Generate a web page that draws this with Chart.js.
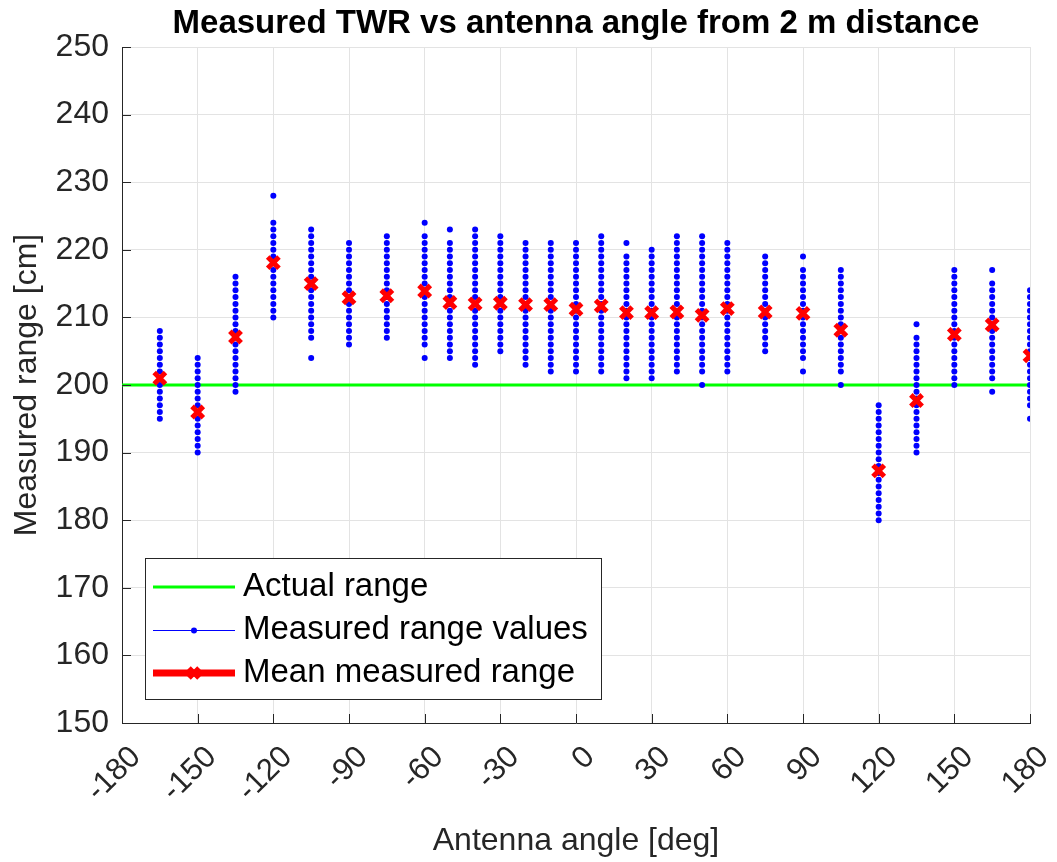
<!DOCTYPE html>
<html>
<head>
<meta charset="utf-8">
<script src="https://cdn.jsdelivr.net/npm/chart.js@4/dist/chart.umd.min.js"></script>
<style>
  body { margin: 0; background: #fff; }
  #wrap { width: 1057px; height: 862px; }
</style>
</head>
<body>
<div id="wrap"><canvas id="twr_chart" width="1057" height="862"></canvas></div>
<script>
// antenna angles [deg]
const angles = [-165, -150, -135, -120, -105, -90, -75, -60, -50, -40, -30, -20, -10, 0,
                10, 20, 30, 40, 50, 60, 75, 90, 105, 120, 135, 150, 165, 180];

// mean measured range per angle [cm]
const meanRange = [201.0, 196.0, 207.1, 218.1, 215.0, 212.9, 213.2, 213.9, 212.2, 212.0, 212.1, 211.9, 211.9, 211.2,
                   211.7, 210.7, 210.7, 210.8, 210.3, 211.3, 210.8, 210.6, 208.1, 187.3, 197.7, 207.5, 208.9, 204.3];

// individual measured range values per angle [cm], same order as angles
const measuredValues = [
    [195, 196, 197, 198, 199, 200, 201, 202, 203, 204, 205, 206, 207, 208],
    [190, 191, 192, 193, 194, 195, 196, 197, 198, 199, 200, 201, 202, 203, 204],
    [199, 200, 201, 202, 203, 204, 205, 206, 207, 208, 209, 210, 211, 212, 213, 214, 215, 216],
    [210, 211, 212, 213, 214, 215, 216, 217, 218, 219, 220, 221, 222, 223, 224, 228],
    [204, 207, 208, 209, 210, 211, 212, 213, 214, 215, 216, 217, 218, 219, 220, 221, 222, 223],
    [206, 207, 208, 209, 210, 211, 212, 213, 214, 215, 216, 217, 218, 219, 220, 221],
    [207, 208, 209, 210, 211, 212, 213, 214, 215, 216, 217, 218, 219, 220, 221, 222],
    [204, 206, 207, 208, 209, 210, 211, 212, 213, 214, 215, 216, 217, 218, 219, 220, 221, 222, 224],
    [204, 205, 206, 207, 208, 209, 210, 211, 212, 213, 214, 215, 216, 217, 218, 219, 220, 221, 223],
    [203, 204, 205, 206, 207, 208, 209, 210, 211, 212, 213, 214, 215, 216, 217, 218, 219, 220, 221, 222, 223],
    [205, 206, 207, 208, 209, 210, 211, 212, 213, 214, 215, 216, 217, 218, 219, 220, 221, 222],
    [203, 204, 205, 206, 207, 208, 209, 210, 211, 212, 213, 214, 215, 216, 217, 218, 219, 220, 221],
    [202, 203, 204, 205, 206, 207, 208, 209, 210, 211, 212, 213, 214, 215, 216, 217, 218, 219, 220, 221],
    [202, 203, 204, 205, 206, 207, 208, 209, 210, 211, 212, 213, 214, 215, 216, 217, 218, 219, 220, 221],
    [202, 203, 204, 205, 206, 207, 208, 209, 210, 211, 212, 213, 214, 215, 216, 217, 218, 219, 220, 221, 222],
    [201, 202, 203, 204, 205, 206, 207, 208, 209, 210, 211, 212, 213, 214, 215, 216, 217, 218, 219, 221],
    [201, 202, 203, 204, 205, 206, 207, 208, 209, 210, 211, 212, 213, 214, 215, 216, 217, 218, 219, 220],
    [202, 203, 204, 205, 206, 207, 208, 209, 210, 211, 212, 213, 214, 215, 216, 217, 218, 219, 220, 221, 222],
    [200, 202, 203, 204, 205, 206, 207, 208, 209, 210, 211, 212, 213, 214, 215, 216, 217, 218, 219, 220, 221, 222],
    [202, 203, 204, 205, 206, 207, 208, 209, 210, 211, 212, 213, 214, 215, 216, 217, 218, 219, 220, 221],
    [205, 206, 207, 208, 209, 210, 211, 212, 213, 214, 215, 216, 217, 218, 219],
    [202, 204, 205, 206, 207, 208, 209, 210, 211, 212, 213, 214, 215, 216, 217, 219],
    [200, 202, 203, 204, 205, 206, 207, 208, 209, 210, 211, 212, 213, 214, 215, 216, 217],
    [180, 181, 182, 183, 184, 185, 186, 187, 188, 189, 190, 191, 192, 193, 194, 195, 196, 197],
    [190, 191, 192, 193, 194, 195, 196, 197, 198, 199, 200, 201, 202, 203, 204, 205, 206, 207, 209],
    [200, 201, 202, 203, 204, 205, 206, 207, 208, 209, 210, 211, 212, 213, 214, 215, 216, 217],
    [199, 201, 202, 203, 204, 205, 206, 207, 208, 209, 210, 211, 212, 213, 214, 215, 217],
    [195, 197, 198, 199, 200, 201, 202, 203, 204, 205, 206, 207, 208, 209, 210, 211, 212, 213, 214]
];

const actualRange = 200;
const xTicks = [-180, 180, 30];   // min, max, step
const yTicks = [150, 250, 10];
const chartTitle = 'Measured TWR vs antenna angle from 2 m distance';

const FONT = "'Liberation Sans', Arial, Helvetica, sans-serif";
const TXT = '#262626';

const measuredPoints = [];
angles.forEach((a, i) => {
    measuredValues[i].forEach((v) => measuredPoints.push({ x: a, y: v }));
});

// title centred over the axes, like matlab does
const axesTitle = {
    id: 'axesTitle',
    afterDraw(chart) {
        const { ctx, chartArea } = chart;
        ctx.save();
        ctx.fillStyle = '#000';
        ctx.font = 'bold 33px ' + FONT;
        ctx.textAlign = 'center';
        ctx.textBaseline = 'middle';
        ctx.fillText(chartTitle, (chartArea.left + chartArea.right) / 2, 24);
        ctx.restore();
    }
};

// matlab style ticks pointing into the plot
const inwardTicks = {
    id: 'inwardTicks',
    afterDatasetsDraw(chart) {
        const { ctx, chartArea, scales } = chart;
        ctx.save();
        ctx.strokeStyle = TXT;
        ctx.lineWidth = 1;
        ctx.beginPath();
        scales.y.ticks.forEach((t) => {
            const y = Math.round(scales.y.getPixelForValue(t.value)) + 0.5;
            ctx.moveTo(chartArea.left, y);
            ctx.lineTo(chartArea.left + 9, y);
        });
        scales.x.ticks.forEach((t) => {
            const x = Math.round(scales.x.getPixelForValue(t.value)) + 0.5;
            ctx.moveTo(x, chartArea.bottom);
            ctx.lineTo(x, chartArea.bottom - 9);
        });
        ctx.stroke();
        ctx.restore();
    }
};

// legend box drawn inside the axes, lower left
const boxLegend = {
    id: 'boxLegend',
    afterDraw(chart) {
        const { ctx } = chart;
        const ds = chart.data.datasets;
        const left = 145, top = 558, w = 456, h = 141;
        ctx.save();
        ctx.fillStyle = '#fff';
        ctx.fillRect(left, top, w, h);
        ctx.strokeStyle = TXT;
        ctx.lineWidth = 1;
        ctx.strokeRect(left + 0.5, top + 0.5, w, h);

        const rows = [587, 630, 673];
        const x0 = 153, x1 = 235, xm = (x0 + x1) / 2;
        ctx.lineCap = 'butt';

        // actual range
        ctx.strokeStyle = ds[0].borderColor;
        ctx.lineWidth = ds[0].borderWidth;
        ctx.beginPath(); ctx.moveTo(x0, rows[0]); ctx.lineTo(x1, rows[0]); ctx.stroke();

        // measured values
        ctx.strokeStyle = ds[1].backgroundColor;
        ctx.lineWidth = 1.2;
        ctx.beginPath(); ctx.moveTo(x0, rows[1] + 0.5); ctx.lineTo(x1, rows[1] + 0.5); ctx.stroke();
        ctx.fillStyle = ds[1].backgroundColor;
        ctx.beginPath(); ctx.arc(xm, rows[1] + 0.5, 3, 0, Math.PI * 2); ctx.fill();

        // mean
        ctx.strokeStyle = ds[2].borderColor;
        ctx.lineWidth = 7;
        ctx.beginPath(); ctx.moveTo(x0, rows[2]); ctx.lineTo(x1, rows[2]); ctx.stroke();
        ctx.lineWidth = ds[2].borderWidth;
        const r = 5;
        ctx.beginPath();
        ctx.moveTo(xm - r, rows[2] - r); ctx.lineTo(xm + r, rows[2] + r);
        ctx.moveTo(xm - r, rows[2] + r); ctx.lineTo(xm + r, rows[2] - r);
        ctx.stroke();

        ctx.fillStyle = '#000';
        ctx.font = '33px ' + FONT;
        ctx.textBaseline = 'middle';
        ctx.textAlign = 'left';
        ds.forEach((d, i) => ctx.fillText(d.label, 243, rows[i]));
        ctx.restore();
    }
};

const data = {
    datasets: [{
        type: 'line',
        label: 'Actual range',
        data: [{ x: xTicks[0], y: actualRange }, { x: xTicks[1], y: actualRange }],
        borderColor: '#00ff00',
        borderWidth: 3,
        pointRadius: 0,
        order: 3
    }, {
        type: 'scatter',
        label: 'Measured range values',
        data: measuredPoints,
        backgroundColor: '#0000ff',
        borderWidth: 0,
        pointRadius: 3,
        order: 2
    }, {
        type: 'scatter',
        label: 'Mean measured range',
        data: angles.map((a, i) => ({ x: a, y: meanRange[i] })),
        pointStyle: 'crossRot',
        borderColor: '#ff0000',
        backgroundColor: '#ff0000',
        borderWidth: 5,
        pointRadius: 8,
        order: 1
    }]
};

const config = {
    type: 'scatter',
    data: data,
    options: {
        responsive: false,
        animation: false,
        layout: { padding: { left: 8, right: 27, top: 47, bottom: 0 } },
        scales: {
            x: {
                type: 'linear',
                min: xTicks[0],
                max: xTicks[1],
                afterFit: (scale) => {
                    scale.height = 139;
                    scale.paddingLeft = 0;
                    scale.paddingRight = 0;
                },
                afterBuildTicks: (scale) => {
                    const t = [];
                    for (let v = xTicks[0]; v <= xTicks[1]; v += xTicks[2]) t.push({ value: v });
                    scale.ticks = t;
                },
                ticks: {
                    autoSkip: false,
                    maxRotation: 45,
                    minRotation: 45,
                    padding: 16,
                    labelOffset: 14,
                    color: TXT,
                    font: { family: FONT, size: 31 }
                },
                grid: { color: '#e3e3e3', drawTicks: false },
                border: { color: TXT, width: 1 },
                title: {
                    display: true,
                    text: 'Antenna angle [deg]',
                    color: TXT,
                    font: { family: FONT, size: 32 },
                    padding: { top: 0, bottom: 2 }
                }
            },
            y: {
                min: yTicks[0],
                max: yTicks[1],
                afterFit: (scale) => {
                    scale.width = 114;
                    scale.paddingTop = 0;
                    scale.paddingBottom = 0;
                },
                ticks: {
                    stepSize: yTicks[2],
                    padding: 13,
                    color: TXT,
                    font: { family: FONT, size: 32 }
                },
                grid: { color: '#e3e3e3', drawTicks: false },
                border: { color: TXT, width: 1 },
                title: {
                    display: true,
                    text: 'Measured range [cm]',
                    color: TXT,
                    font: { family: FONT, size: 32 },
                    padding: { top: 0, bottom: 0 }
                }
            }
        },
        plugins: {
            legend: { display: false },
            tooltip: { enabled: false },
            title: { display: false }
        }
    },
    plugins: [axesTitle, inwardTicks, boxLegend]
};

var ctx_twr = document.getElementById('twr_chart');
var twr_chart = new Chart(ctx_twr, config);
</script>
</body>
</html>
